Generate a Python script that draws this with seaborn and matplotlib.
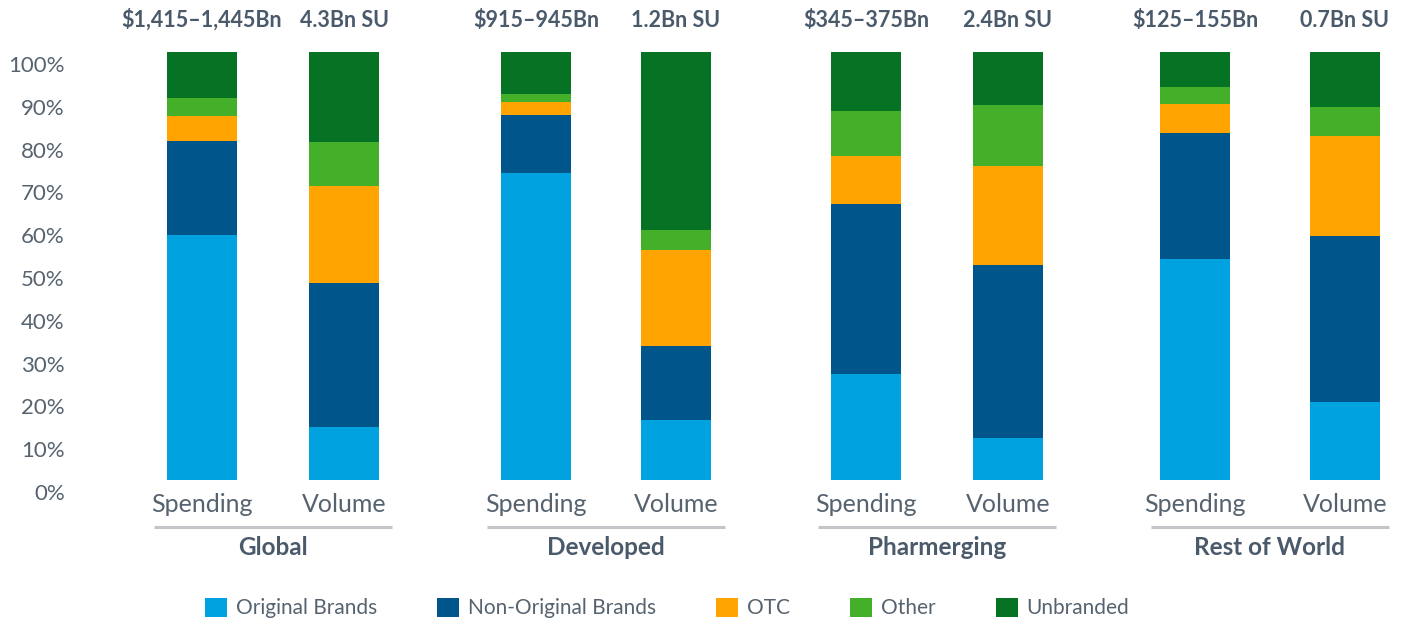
import numpy as np
import pandas as pd
import matplotlib
matplotlib.use("Agg")
import matplotlib.pyplot as plt
import matplotlib.transforms as mtransforms
from matplotlib.patches import Patch
import seaborn as sns

# ---------------- data ----------------
regions = ["Global", "Developed", "Pharmerging", "Rest of World"]
metrics = ["Spending", "Volume"]
top_labels = ["$1,415–1,445Bn", "4.3Bn SU",
              "$915–945Bn", "1.2Bn SU",
              "$345–375Bn", "2.4Bn SU",
              "$125–155Bn", "0.7Bn SU"]
categories = ["Original Brands", "Non-Original Brands", "OTC", "Other", "Unbranded"]
# shares (%) per bar: Global S, Global V, Developed S, Developed V, Pharmerging S, Pharmerging V, RoW S, RoW V
original_brands     = [57.2, 12.4, 71.7, 14.0, 24.8,  9.8, 51.6, 18.3]
non_original_brands = [22.0, 33.7, 13.6, 17.4, 39.7, 40.4, 29.4, 38.6]
otc                 = [ 5.8, 22.7,  3.0, 22.4, 11.2, 23.1,  6.8, 23.4]
other               = [ 4.2, 10.2,  1.9,  4.7, 10.5, 14.3,  4.0,  6.8]
unbranded           = [10.7, 21.0,  9.8, 41.6, 13.8, 12.4,  8.2, 12.9]
y_ticks = [0, 10, 20, 30, 40, 50, 60, 70, 80, 90, 100]

# ---------------- styling ----------------
colors = ["#00A3E0", "#00558A", "#FFA400", "#44B02A", "#057323"]
text_color = "#4a5a6b"
tick_color = "#56636f"
line_color = "#c3c5c8"

sns.set_theme(style="white")
plt.rcParams["font.family"] = ["Lato", "DejaVu Sans"]

W, H, DPI = 1408, 622, 100
fig = plt.figure(figsize=(W / DPI, H / DPI), dpi=DPI)

# axes placement in pixels
ax_left, ax_top, ax_bottom = 76, 52, 480
ax = fig.add_axes([ax_left / W, (H - ax_bottom) / H, (W - ax_left) / W, (ax_bottom - ax_top) / H])

# bar positions (layout)
group_starts = [0.0, 2.352, 4.676, 6.993]
pair_steps = [1.0, 0.986, 1.0, 1.056]
unit_px = 142.0
first_px = 202.0

rows = []
for gi, reg in enumerate(regions):
    for mi, met in enumerate(metrics):
        b = gi * 2 + mi
        vals = [original_brands[b], non_original_brands[b], otc[b], other[b], unbranded[b]]
        for ci, cat in enumerate(categories):
            rows.append(dict(region=reg, metric=met, bar=b,
                             pos=group_starts[gi] + mi * pair_steps[gi],
                             category=cat, value=vals[ci]))
df = pd.DataFrame(rows)
df["cat_idx"] = df["category"].map({c: i for i, c in enumerate(categories)})
df = df.sort_values(["bar", "cat_idx"])
df["cum"] = df.groupby("bar")["value"].cumsum()

min_gap = np.diff(sorted(df["pos"].unique())).min()
bar_width = (70 / unit_px) / min_gap
# draw from the top layer down so that lower layers overlay
for ci in reversed(range(len(categories))):
    sub = df[df["cat_idx"] == ci]
    sns.barplot(data=sub, x="pos", y="cum", native_scale=True, color=colors[ci],
                saturation=1, width=bar_width, errorbar=None, edgecolor="none",
                linewidth=0, ax=ax)

ax.set_xlim((ax_left - first_px) / unit_px, (W - first_px) / unit_px)
ax.set_ylim(0, 100)
px_per_unit_y = (ax_bottom - ax_top) / 100.0

def y_from_px(py):
    return (ax_bottom - py) / px_per_unit_y

for s in ax.spines.values():
    s.set_visible(False)
ax.grid(False)

# y ticks
ax.set_yticks(y_ticks)
ax.set_yticklabels([f"{v}%" for v in y_ticks], fontsize=16, color=tick_color)
ax.tick_params(axis="y", length=0, pad=8)
offset = mtransforms.ScaledTranslation(0, -12 / DPI, fig.dpi_scale_trans)
for lab in ax.get_yticklabels():
    lab.set_transform(lab.get_transform() + offset)

# x ticks
bar_pos = sorted(df["pos"].unique())
ax.set_xticks(bar_pos)
ax.set_xticklabels([metrics[i % 2] for i in range(len(bar_pos))], fontsize=18, color=tick_color)
ax.tick_params(axis="x", length=0, pad=9)
ax.set_xlabel("")
ax.set_ylabel("")

# top labels
for i, p in enumerate(bar_pos):
    ax.text(p, y_from_px(27), top_labels[i], ha="center", va="baseline",
            fontsize=15.5, fontweight="bold", color=text_color, clip_on=False)

# group lines and labels
half = 119 / unit_px
for gi, reg in enumerate(regions):
    c = group_starts[gi] + pair_steps[gi] / 2
    ax.plot([c - half, c + half], [y_from_px(527)] * 2, color=line_color, lw=2.2,
            clip_on=False, solid_capstyle="butt")
    ax.text(c, y_from_px(555), reg, ha="center", va="baseline", fontsize=17.5,
            fontweight="bold", color=text_color, clip_on=False)

# legend
handles = [Patch(facecolor=colors[i], edgecolor="none") for i in range(len(categories))]
fig.legend(handles, categories, loc="center", bbox_to_anchor=(667 / W, 1 - 608 / H),
           ncol=5, frameon=False, fontsize=15, labelcolor=tick_color,
           handlelength=1.06, handleheight=1.06, handletextpad=0.4, columnspacing=2.9)

fig.savefig("out.png", dpi=DPI)
